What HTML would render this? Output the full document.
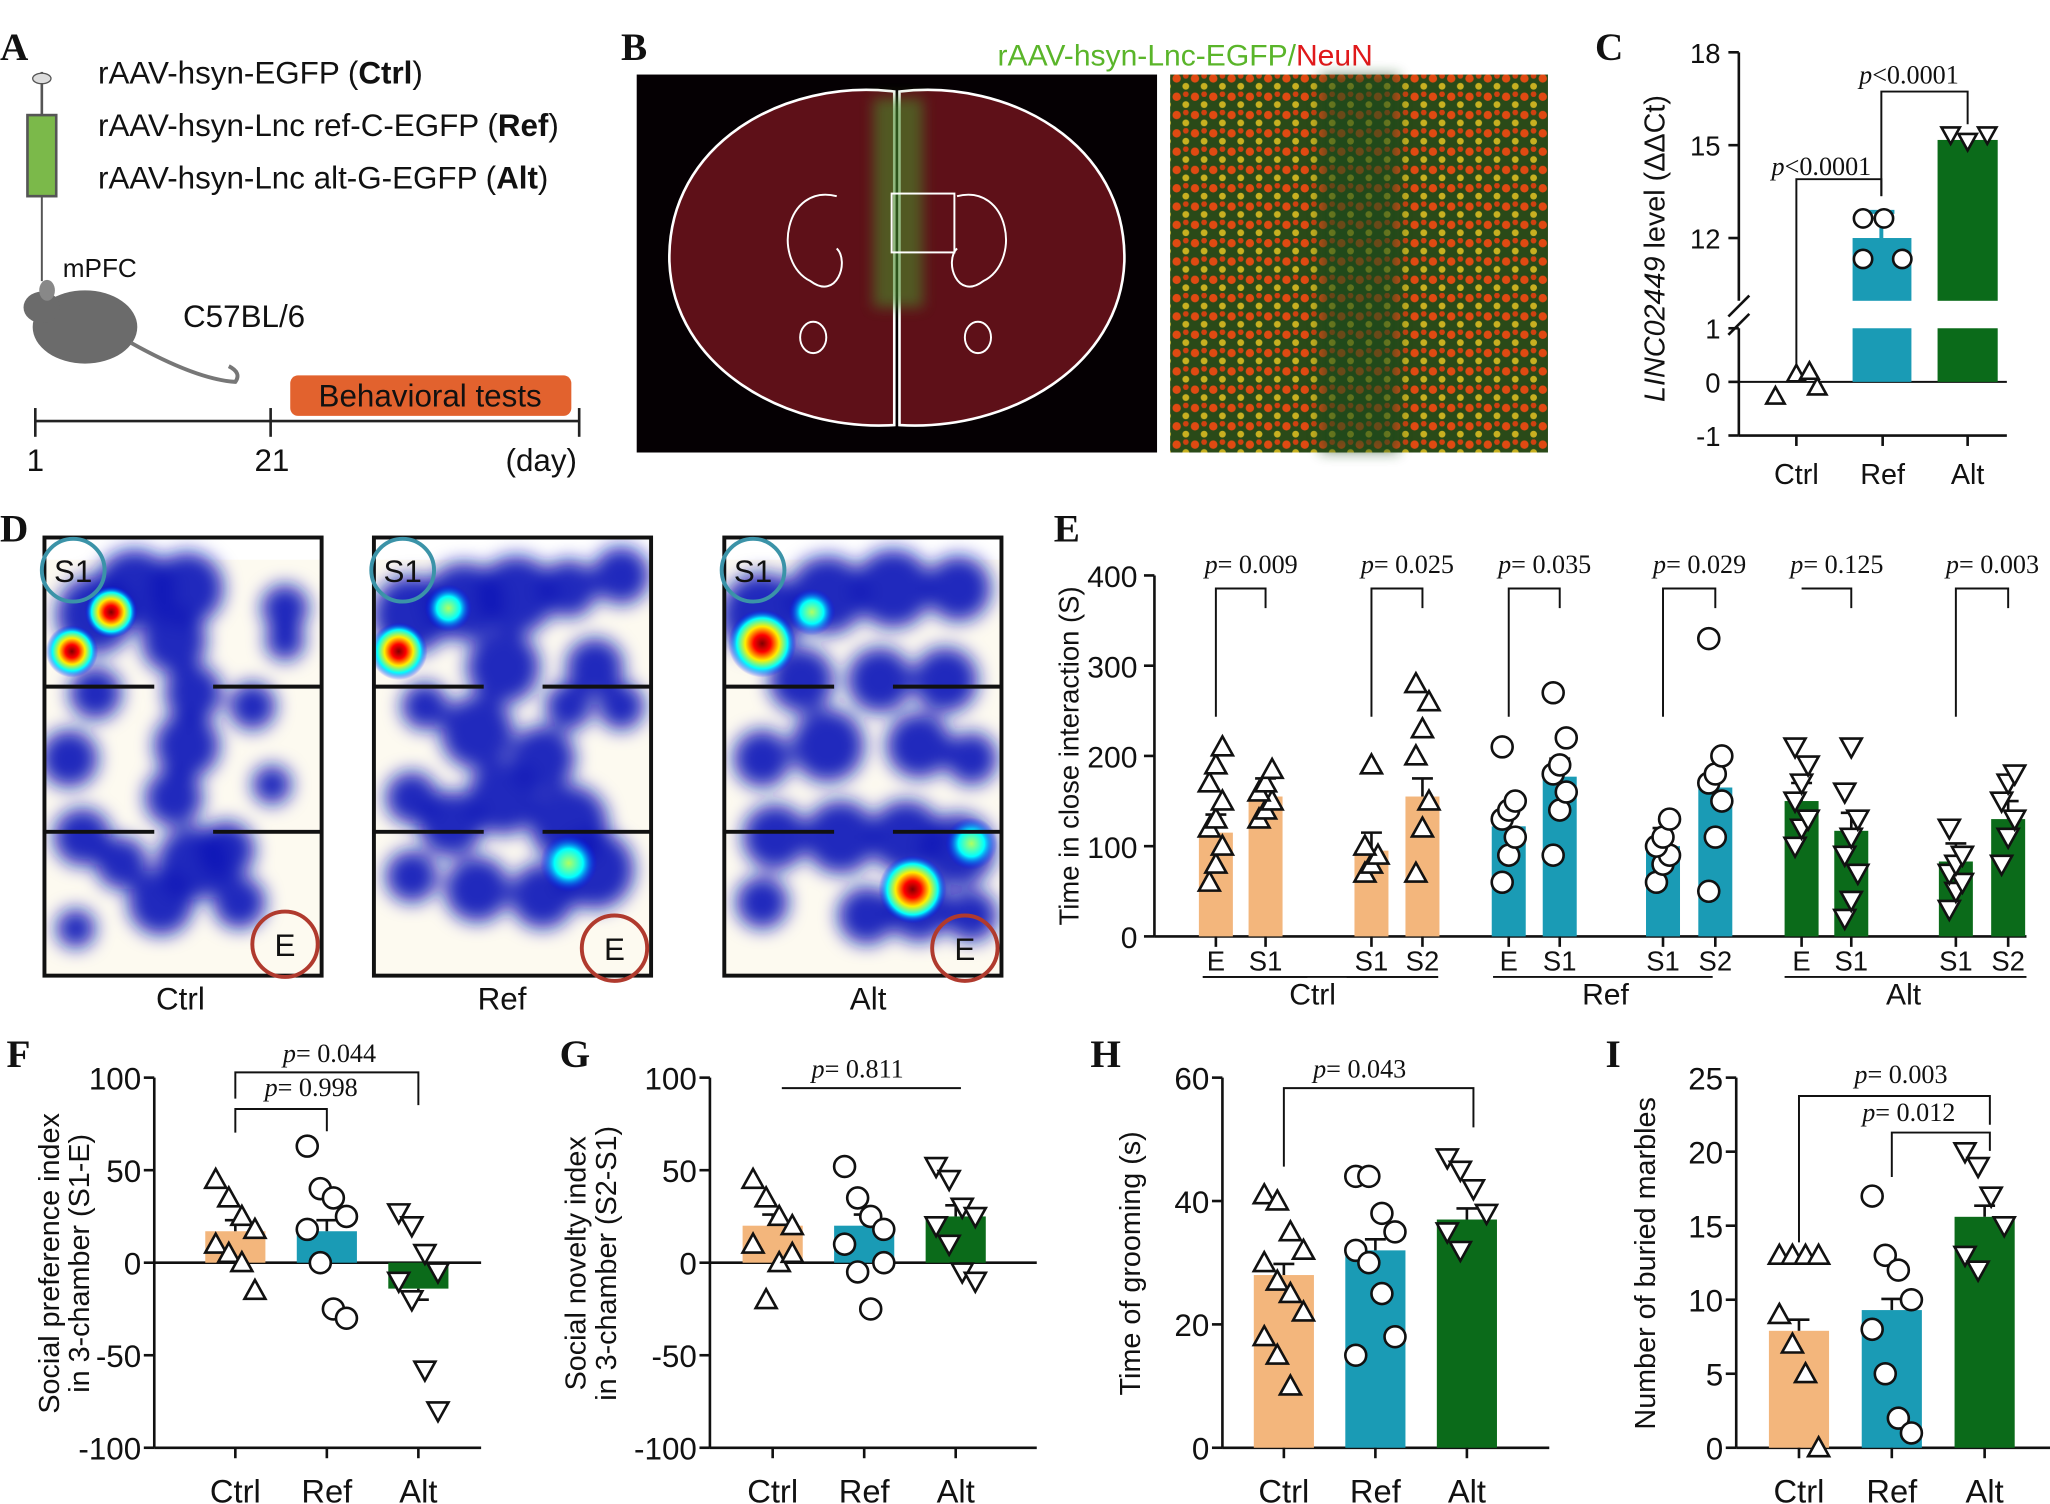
<!DOCTYPE html>
<html><head><meta charset="utf-8"><style>
html,body{margin:0;padding:0;background:#fff}
svg{display:block}
text{font-family:"Liberation Sans",sans-serif;fill:#111}
.pl{font-family:"Liberation Serif",serif;font-weight:bold;font-size:30px}
.pv{font-family:"Liberation Serif",serif;font-size:20px}
</style></head><body>
<svg id="s" width="2050" height="1504" viewBox="0 0 1568 1150" preserveAspectRatio="none" xmlns="http://www.w3.org/2000/svg">
<defs>
<filter id="bl" x="-50%" y="-50%" width="200%" height="200%"><feGaussianBlur stdDeviation="7"/></filter>
<filter id="bl2" x="-50%" y="-50%" width="200%" height="200%"><feGaussianBlur stdDeviation="5"/></filter>
<radialGradient id="hot"><stop offset="0" stop-color="#800000"/><stop offset="0.25" stop-color="#ff0000"/><stop offset="0.5" stop-color="#ffee00"/><stop offset="0.75" stop-color="#00ffff"/><stop offset="1" stop-color="#0000ff" stop-opacity="0"/></radialGradient>
<radialGradient id="warm"><stop offset="0" stop-color="#b0ff60"/><stop offset="0.5" stop-color="#00ffff"/><stop offset="1" stop-color="#0000ff" stop-opacity="0"/></radialGradient>
<pattern id="neu" width="14" height="14" patternUnits="userSpaceOnUse"><rect width="14" height="14" fill="#2a4a18"/><circle cx="4" cy="4" r="3.2" fill="#e04a12"/><circle cx="11" cy="10" r="2.6" fill="#c8b020"/><circle cx="11" cy="2" r="2.2" fill="#d04010"/></pattern>
<clipPath id="c0"><rect x="33" y="410" width="214" height="336"/></clipPath>
<clipPath id="c1"><rect x="285" y="410" width="214" height="336"/></clipPath>
<clipPath id="c2"><rect x="553" y="410" width="214" height="336"/></clipPath>
</defs>
<rect width="1568" height="1150" fill="#fff"/>

<!-- Panel A -->
<text class="pl" x="0" y="46">A</text>
<text x="75" y="64" font-size="24">rAAV-hsyn-EGFP (<tspan font-weight="bold">Ctrl</tspan>)</text>
<text x="75" y="104" font-size="24">rAAV-hsyn-Lnc ref-C-EGFP (<tspan font-weight="bold">Ref</tspan>)</text>
<text x="75" y="144" font-size="24">rAAV-hsyn-Lnc alt-G-EGFP (<tspan font-weight="bold">Alt</tspan>)</text>
<line x1="32" y1="55" x2="32" y2="90" stroke="#555" stroke-width="2"/>
<ellipse cx="32" cy="60" rx="7" ry="4" fill="#ddd" stroke="#555"/>
<rect x="21" y="88" width="22" height="62" fill="#7bb94a" stroke="#555" stroke-width="2"/>
<line x1="32" y1="150" x2="32" y2="215" stroke="#555" stroke-width="1.5"/>
<text x="48" y="212" font-size="20">mPFC</text>
<ellipse cx="65" cy="250" rx="40" ry="28" fill="#6b6b6b"/>
<ellipse cx="32" cy="235" rx="14" ry="12" fill="#6b6b6b"/>
<ellipse cx="36" cy="222" rx="6" ry="8" fill="#888"/>
<path d="M100 262 Q150 290 180 292 Q185 285 175 280" stroke="#777" stroke-width="3" fill="none"/>
<text x="140" y="250" font-size="24">C57BL/6</text>
<rect x="222" y="287" width="215" height="31" rx="6" fill="#e2622e"/>
<text x="329" y="311" font-size="24" text-anchor="middle">Behavioral tests</text>
<line x1="27" y1="322" x2="443" y2="322" stroke="#222" stroke-width="2"/>
<line x1="27" y1="312" x2="27" y2="334" stroke="#222" stroke-width="2"/>
<line x1="207" y1="312" x2="207" y2="334" stroke="#222" stroke-width="2"/>
<line x1="443" y1="312" x2="443" y2="334" stroke="#222" stroke-width="2"/>
<text x="27" y="360" font-size="24" text-anchor="middle">1</text>
<text x="208" y="360" font-size="24" text-anchor="middle">21</text>
<text x="414" y="360" font-size="24" text-anchor="middle">(day)</text>

<!-- Panel B -->
<text class="pl" x="475" y="46">B</text>
<text x="763" y="50" font-size="23" style="fill:#5ab52a">rAAV-hsyn-Lnc-EGFP/<tspan style="fill:#e0191b">NeuN</tspan></text>
<rect x="487" y="57" width="398" height="289" fill="#050003"/>
<path d="M684 70 C600 60 510 110 512 200 C515 280 600 330 684 325 Z" fill="#5e1018" stroke="#fff" stroke-width="2"/>
<path d="M688 70 C772 60 862 110 860 200 C857 280 772 330 688 325 Z" fill="#5e1018" stroke="#fff" stroke-width="2"/>
<rect x="668" y="75" width="38" height="160" fill="#4a8a2a" opacity="0.6" filter="url(#bl2)"/>
<path d="M640 150 C600 140 590 200 620 215 C640 230 650 200 640 190" stroke="#fff" fill="none" stroke-width="1.5"/>
<path d="M732 150 C772 140 782 200 752 215 C732 230 722 200 732 190" stroke="#fff" fill="none" stroke-width="1.5"/>
<rect x="682" y="148" width="48" height="45" fill="none" stroke="#fff" stroke-width="1.5"/>
<ellipse cx="622" cy="258" rx="10" ry="12" fill="none" stroke="#fff" stroke-width="1.5"/>
<ellipse cx="748" cy="258" rx="10" ry="12" fill="none" stroke="#fff" stroke-width="1.5"/>
<rect x="895" y="57" width="289" height="289" fill="url(#neu)"/>
<rect x="1010" y="57" width="60" height="289" fill="#1f4a1a" opacity="0.6" filter="url(#bl2)"/>

<!-- Panel C -->
<text class="pl" x="1220" y="46">C</text>
<g font-size="21">
<line x1="1330" y1="40" x2="1330" y2="230" stroke="#111" stroke-width="2"/>
<line x1="1330" y1="251" x2="1330" y2="333" stroke="#111" stroke-width="2"/>
<line x1="1322" y1="242" x2="1338" y2="226" stroke="#111" stroke-width="2"/>
<line x1="1322" y1="256" x2="1338" y2="240" stroke="#111" stroke-width="2"/>
<g stroke="#111" stroke-width="2"><line x1="1322" y1="40" x2="1330" y2="40"/><line x1="1322" y1="111" x2="1330" y2="111"/><line x1="1322" y1="182" x2="1330" y2="182"/><line x1="1322" y1="251" x2="1330" y2="251"/><line x1="1322" y1="292" x2="1330" y2="292"/><line x1="1322" y1="333" x2="1330" y2="333"/>
<line x1="1330" y1="292" x2="1535" y2="292" stroke-width="1.5"/>
<line x1="1330" y1="333" x2="1535" y2="333"/><line x1="1374" y1="333" x2="1374" y2="341"/><line x1="1440" y1="333" x2="1440" y2="341"/><line x1="1505" y1="333" x2="1505" y2="341"/></g>
<text x="1316" y="48" text-anchor="end">18</text><text x="1316" y="119" text-anchor="end">15</text><text x="1316" y="190" text-anchor="end">12</text><text x="1316" y="259" text-anchor="end">1</text><text x="1316" y="300" text-anchor="end">0</text><text x="1316" y="341" text-anchor="end">-1</text>
<rect x="1417" y="182" width="45" height="48" fill="#1a9bb5"/><rect x="1417" y="251" width="45" height="41" fill="#1a9bb5"/>
<rect x="1482" y="107" width="46" height="123" fill="#0b6b1a"/><rect x="1482" y="251" width="46" height="41" fill="#0b6b1a"/>
<path d="M1439 182 V162 M1429 162 H1449" stroke="#1a9bb5" stroke-width="3"/>
<text x="1374" y="370" text-anchor="middle" font-size="22">Ctrl</text><text x="1440" y="370" text-anchor="middle" font-size="22">Ref</text><text x="1505" y="370" text-anchor="middle" font-size="22">Alt</text>
<text transform="translate(1273,190) rotate(-90)" text-anchor="middle" font-size="22"><tspan font-style="italic">LINC02449</tspan> level (ΔΔCt)</text>
<path d="M1374 283 V137 H1439 V150" stroke="#111" fill="none" stroke-width="1.5"/>
<path d="M1439 150 V70 H1505 V95" stroke="#111" fill="none" stroke-width="1.5"/>
<text class="pv" x="1355" y="134"><tspan font-style="italic">p</tspan>&lt;0.0001</text>
<text class="pv" x="1422" y="64"><tspan font-style="italic">p</tspan>&lt;0.0001</text>
</g>
<g id="cm" fill="#fff" stroke="#111" stroke-width="2"></g>

<!-- Panel D -->
<text class="pl" x="0" y="414">D</text>
<g id="heat"></g>
<text x="138" y="772" font-size="24" text-anchor="middle">Ctrl</text>
<text x="384" y="772" font-size="24" text-anchor="middle">Ref</text>
<text x="664" y="772" font-size="24" text-anchor="middle">Alt</text>

<!-- Panel E -->
<text class="pl" x="806" y="414">E</text>
<g id="E"></g>
<text transform="translate(825,578) rotate(-90)" text-anchor="middle" font-size="21">Time in close interaction (S)</text>

<text class="pl" x="5" y="816">F</text>
<text class="pl" x="428" y="816">G</text>
<text class="pl" x="834" y="816">H</text>
<text class="pl" x="1228" y="816">I</text>
<g id="bot"></g>
<text transform="translate(45,966) rotate(-90)" text-anchor="middle" font-size="22">Social preference index</text>
<text transform="translate(68,966) rotate(-90)" text-anchor="middle" font-size="22">in 3-chamber (S1-E)</text>
<text transform="translate(448,966) rotate(-90)" text-anchor="middle" font-size="22">Social novelty index</text>
<text transform="translate(471,966) rotate(-90)" text-anchor="middle" font-size="22">in 3-chamber (S2-S1)</text>
<text transform="translate(872,966) rotate(-90)" text-anchor="middle" font-size="22">Time of grooming (s)</text>
<text transform="translate(1266,966) rotate(-90)" text-anchor="middle" font-size="22">Number of  buried marbles</text>
</svg>
<script>
const NS="http://www.w3.org/2000/svg";
function el(p,t,a,txt){const e=document.createElementNS(NS,t);for(const k in a)e.setAttribute(k,a[k]);if(txt!=null)e.textContent=txt;p.appendChild(e);return e;}
const OR="#f3b67c",TE="#1a9bb5",GR="#0b6b1a";
function mk(g,type,x,y,s){s=s||8;
 if(type=="c")el(g,"circle",{cx:x,cy:y,r:s,fill:"#fff",stroke:"#111","stroke-width":2});
 else if(type=="t")el(g,"path",{d:`M${x} ${y-s}L${x+s} ${y+s*0.8}L${x-s} ${y+s*0.8}Z`,fill:"#fff",stroke:"#111","stroke-width":2});
 else el(g,"path",{d:`M${x} ${y+s}L${x+s} ${y-s*0.8}L${x-s} ${y-s*0.8}Z`,fill:"#fff",stroke:"#111","stroke-width":2});}
const cm=document.getElementById("cm");
[[1358,303],[1374,286],[1390,296],[1384,284]].forEach(p=>mk(cm,"t",p[0],p[1],7));
[[1425,198],[1441,167],[1455,198],[1425,167]].forEach(p=>mk(cm,"c",p[0],p[1],7));
[[1492,103],[1505,108],[1520,103]].forEach(p=>mk(cm,"v",p[0],p[1],7));
// Heatmaps: circles [x,y,r]
const heat=document.getElementById("heat");
const boxes=[[33,410,'ctrl',0],[285,410,'ref',1],[553,410,'alt',2]];
const blobs={
 ctrl:[[40,60,30],[70,40,30],[110,40,28],[100,80,25],[115,120,22],[110,160,25],[100,200,22],[20,170,22],[30,230,22],[115,250,28],[90,280,25],[140,240,22],[160,130,18],[175,190,15],[185,80,15],[185,55,18],[60,250,20],[150,280,20],[40,120,20],[25,300,15]],
 ref:[[30,60,30],[70,50,30],[110,45,30],[150,40,22],[190,30,22],[100,100,28],[80,150,28],[100,200,28],[60,220,25],[130,170,25],[150,220,30],[170,255,30],[130,275,25],[80,270,25],[30,200,20],[30,260,20],[170,100,22],[190,130,18],[40,130,18],[150,130,18]],
 alt:[[30,60,32],[80,45,30],[130,40,30],[180,40,25],[60,110,25],[120,110,25],[170,110,25],[80,160,28],[150,160,25],[190,170,20],[30,170,22],[40,230,25],[90,230,28],[140,230,28],[180,240,28],[150,285,25],[110,290,22],[190,290,20],[30,280,20]]};
const hots={ctrl:[[22,88,'hot',20],[52,58,'hot',20]],ref:[[20,88,'hot',22],[58,55,'warm',18],[150,250,'warm',22]],alt:[[30,82,'hot',26],[68,58,'warm',18],[145,270,'hot',26],[190,235,'warm',20]]};
boxes.forEach(([x,y,k,ci])=>{
 const g=el(heat,"g",{"clip-path":`url(#c${ci})`});
 el(g,"rect",{x:x,y:y+18,width:214,height:318,fill:"#fdfaf0"});
 const bg=el(g,"g",{filter:"url(#bl)"});
 blobs[k].forEach(b=>el(bg,"circle",{cx:x+b[0],cy:y+b[1],r:b[2],fill:"#0a18b8",opacity:0.92}));
 hots[k].forEach(h=>el(g,"circle",{cx:x+h[0],cy:y+h[1],r:h[3],fill:`url(#${h[2]})`}));
 const g2=el(heat,"g",{});
 el(g2,"rect",{x:x+1,y:y+1,width:212,height:335,fill:"none",stroke:"#111","stroke-width":3});
 el(g2,"line",{x1:x,y1:y+115,x2:x+85,y2:y+115,stroke:"#111","stroke-width":3});
 el(g2,"line",{x1:x+130,y1:y+115,x2:x+213,y2:y+115,stroke:"#111","stroke-width":3});
 el(g2,"line",{x1:x,y1:y+226,x2:x+85,y2:y+226,stroke:"#111","stroke-width":3});
 el(g2,"line",{x1:x+130,y1:y+226,x2:x+213,y2:y+226,stroke:"#111","stroke-width":3});
 el(g2,"circle",{cx:x+23,cy:y+26,r:24,fill:"none",stroke:"#3b93a8","stroke-width":3});
 el(g2,"text",{x:x+23,y:y+35,"font-size":24,"text-anchor":"middle"},"S1");
 const ex=x+185, ey=k=='ctrl'?y+312:y+315;
 el(g2,"circle",{cx:ex,cy:ey,r:25,fill:"none",stroke:"#b03a2e","stroke-width":3});
 el(g2,"text",{x:ex,y:ey+9,"font-size":24,"text-anchor":"middle"},"E");
});
// Panel E
const E=document.getElementById("E");
const ey0=716,esc=0.69;
el(E,"line",{x1:883,y1:440,x2:883,y2:716,stroke:"#111","stroke-width":2});
el(E,"line",{x1:883,y1:716,x2:1550,y2:716,stroke:"#111","stroke-width":2});
[0,100,200,300,400].forEach(v=>{const y=ey0-v*esc;el(E,"line",{x1:875,y1:y,x2:883,y2:y,stroke:"#111","stroke-width":2});el(E,"text",{x:870,y:y+9,"font-size":23,"text-anchor":"end"},v);});
const pairs=[[930,968,OR,OR,115,155,"E","S1","t","t","0.009"],[1049,1088,OR,OR,95,155,"S1","S2","t","t","0.025"],[1154,1193,TE,TE,122,177,"E","S1","c","c","0.035"],[1272,1312,TE,TE,100,165,"S1","S2","c","c","0.029"],[1378,1416,GR,GR,150,117,"E","S1","v","v","0.125"],[1496,1536,GR,GR,83,130,"S1","S2","v","v","0.003"]];
const pts=[[60,80,100,120,130,150,170,190,210],[130,140,150,160,170,185],[70,80,90,100,190],[70,120,150,200,230,260,280],[60,90,110,130,140,150,210],[90,140,160,180,190,220,270],[60,80,90,100,110,130],[50,110,150,170,180,200,330],[100,120,130,150,170,190,210],[20,40,70,90,110,130,160,210],[30,50,60,70,80,90,120],[80,110,130,150,170,180]];
pairs.forEach((p,i)=>{
 [[p[0],p[2],p[4],p[6],p[8]],[p[1],p[3],p[5],p[7],p[9]]].forEach(([cx,c,h,lab,m],j)=>{
  el(E,"rect",{x:cx-13,y:ey0-h*esc,width:26,height:h*esc,fill:c});
  el(E,"line",{x1:cx,y1:ey0-h*esc,x2:cx,y2:ey0-(h+20)*esc,stroke:"#111","stroke-width":2});
  el(E,"line",{x1:cx-8,y1:ey0-(h+20)*esc,x2:cx+8,y2:ey0-(h+20)*esc,stroke:"#111","stroke-width":2});
  pts[i*2+j].forEach((v,k)=>mk(E,m,cx+((k%3)-1)*5,ey0-v*esc,8));
  el(E,"line",{x1:cx,y1:716,x2:cx,y2:724,stroke:"#111","stroke-width":2});
  el(E,"text",{x:cx,y:742,"font-size":21,"text-anchor":"middle"},lab);
 });
 el(E,"path",{d:`M${p[0]} ${i==4?450:548} V450 H${p[1]} V465`,stroke:"#111",fill:"none","stroke-width":1.5});
 const t=el(E,"text",{x:(p[0]+p[1])/2+8,y:438,class:"pv","text-anchor":"middle"});
 el(t,"tspan",{"font-style":"italic"},"p");el(t,"tspan",{},"= "+p[10]);
});
[[920,1000,"Ctrl",1004],[1030,1100,"",0],[1142,1310,"Ref",1228],[1365,1550,"Alt",1456]].forEach(g=>{el(E,"line",{x1:g[0],y1:747,x2:g[1],y2:747,stroke:"#111","stroke-width":1.5});if(g[2])el(E,"text",{x:g[3],y:768,"font-size":23,"text-anchor":"middle"},g[2]);});
el(E,"line",{x1:920,y1:747,x2:1100,y2:747,stroke:"#111","stroke-width":1.5});
const bot=document.getElementById("bot");
function panel(ax,ticks,ymin,ymax,yTop,yBot,bars,pv){
 const sy=v=>yBot-(v-ymin)/(ymax-ymin)*(yBot-yTop);
 el(bot,"line",{x1:ax,y1:yTop,x2:ax,y2:yBot,stroke:"#111","stroke-width":2});
 el(bot,"line",{x1:ax,y1:yBot,x2:ax+250,y2:yBot,stroke:"#111","stroke-width":2});
 if(ymin<0)el(bot,"line",{x1:ax,y1:sy(0),x2:ax+250,y2:sy(0),stroke:"#111","stroke-width":2});
 ticks.forEach(v=>{el(bot,"line",{x1:ax-8,y1:sy(v),x2:ax,y2:sy(v),stroke:"#111","stroke-width":2});el(bot,"text",{x:ax-10,y:sy(v)+9,"font-size":24,"text-anchor":"end"},v);});
 bars.forEach(b=>{const [cx,c,v,m,lab,data]=b;const y0=sy(Math.max(0,ymin)),yv=sy(v);
  el(bot,"rect",{x:cx-23,y:Math.min(y0,yv),width:46,height:Math.abs(y0-yv),fill:c});
  const e=(ymax-ymin)*0.03;el(bot,"line",{x1:cx,y1:yv,x2:cx,y2:sy(v+(v<0?-e:e)),stroke:"#111","stroke-width":2});
  el(bot,"line",{x1:cx-8,y1:sy(v+(v<0?-e:e)),x2:cx+8,y2:sy(v+(v<0?-e:e)),stroke:"#111","stroke-width":2});
  data.forEach((d,k)=>mk(bot,m,cx+((k%4)-1.5)*10,sy(d),8));
  el(bot,"line",{x1:cx,y1:yBot,x2:cx,y2:yBot+8,stroke:"#111","stroke-width":2});
  el(bot,"text",{x:cx,y:yBot+42,"font-size":25,"text-anchor":"middle"},lab);});
 pv.forEach(p=>{el(bot,"path",{d:p[0],stroke:"#111",fill:"none","stroke-width":1.5});const t=el(bot,"text",{x:p[1],y:p[2],class:"pv","text-anchor":"middle"});el(t,"tspan",{"font-style":"italic"},"p");el(t,"tspan",{},"= "+p[3]);});
}
panel(118,[100,50,0,-50,-100],-100,100,824,1107,[[180,OR,17,"t","Ctrl",[45,35,25,18,10,5,0,-15]],[250,TE,17,"c","Ref",[63,40,35,25,18,0,-25,-30]],[320,GR,-14,"v","Alt",[27,20,5,-5,-10,-20,-58,-80]]],
 [["M180 840 V820 H320 V845",252,812,"0.044"],["M180 866 V848 H250 V865",238,838,"0.998"]]);
panel(543,[100,50,0,-50,-100],-100,100,824,1107,[[591,OR,20,"t","Ctrl",[45,35,25,20,10,-20,0,5]],[661,TE,20,"c","Ref",[52,35,25,18,10,-5,-25,0]],[731,GR,25,"v","Alt",[52,45,30,25,20,10,-5,-10]]],
 [["M598 832 H735",656,824,"0.811"]]);
panel(935,[60,40,20,0],0,60,824,1107,[[982,OR,28,"t","Ctrl",[41,40,35,32,30,27,25,22,18,15,10]],[1052,TE,32,"c","Ref",[44,44,38,35,32,30,25,18,15]],[1122,GR,37,"v","Alt",[47,45,42,38,35,32]]],
 [["M982 892 V832 H1127 V862",1040,824,"0.043"]]);
panel(1328,[25,20,15,10,5,0],0,25,824,1107,[[1376,OR,7.9,"t","Ctrl",[13,13,13,13,9,7,5,0]],[1447,TE,9.3,"c","Ref",[17,13,12,10,8,5,2,1]],[1518,GR,15.6,"v","Alt",[20,19,17,15,13,12]]],
 [["M1376 950 V838 H1522 V860",1454,828,"0.003"],["M1447 900 V866 H1522 V880",1460,857,"0.012"]]);
</script>
</body></html>
